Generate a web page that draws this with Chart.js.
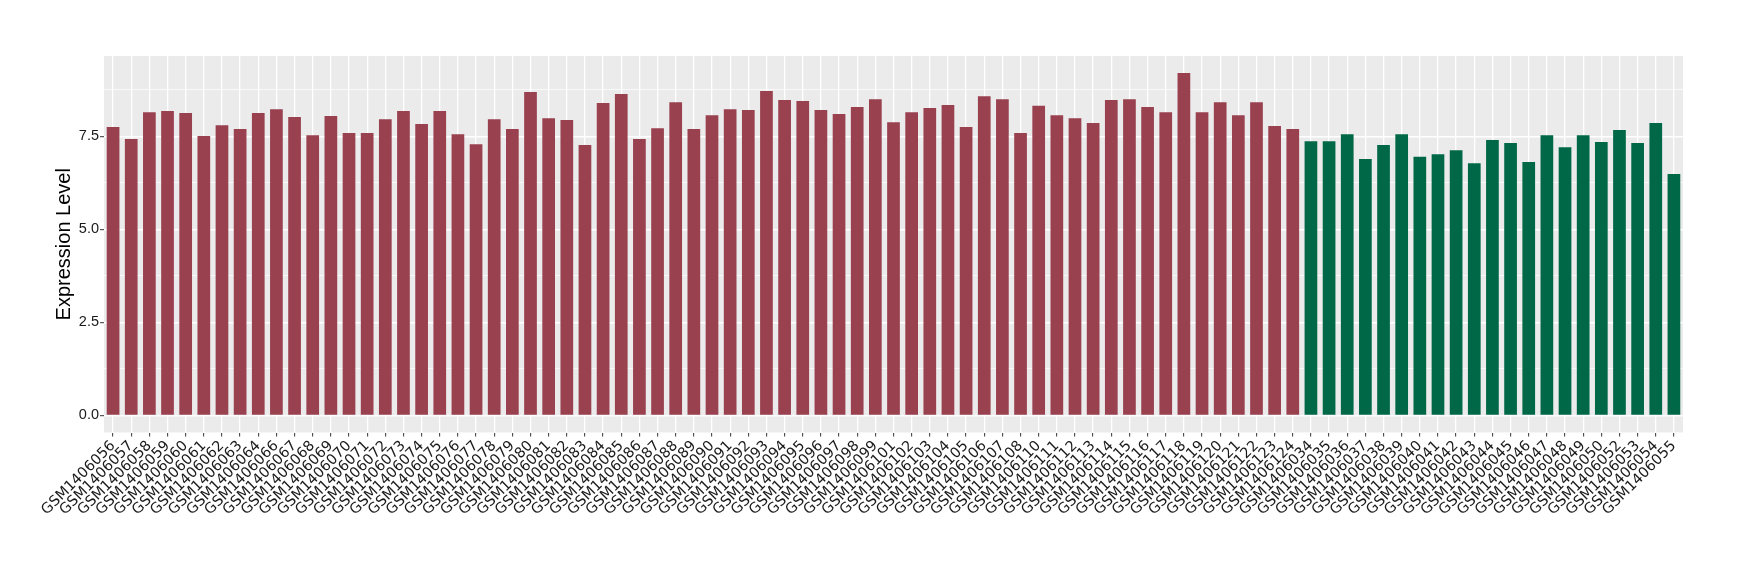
<!DOCTYPE html>
<html>
<head>
<meta charset="utf-8">
<script src="https://cdn.jsdelivr.net/npm/chart.js@4/dist/chart.umd.min.js"></script>
<style>
  body { margin: 0; background: #fff; }
</style>
</head>
<body>
<canvas id="exprChart" width="1740" height="580"></canvas>
<script>
  // group 1 (red) samples and values
  const redSamples = [
    "GSM1406056", "GSM1406057", "GSM1406058", "GSM1406059", "GSM1406060", "GSM1406061",
    "GSM1406062", "GSM1406063", "GSM1406064", "GSM1406066", "GSM1406067", "GSM1406068",
    "GSM1406069", "GSM1406070", "GSM1406071", "GSM1406072", "GSM1406073", "GSM1406074",
    "GSM1406075", "GSM1406076", "GSM1406077", "GSM1406078", "GSM1406079", "GSM1406080",
    "GSM1406081", "GSM1406082", "GSM1406083", "GSM1406084", "GSM1406085", "GSM1406086",
    "GSM1406087", "GSM1406088", "GSM1406089", "GSM1406090", "GSM1406091", "GSM1406092",
    "GSM1406093", "GSM1406094", "GSM1406095", "GSM1406096", "GSM1406097", "GSM1406098",
    "GSM1406099", "GSM1406101", "GSM1406102", "GSM1406103", "GSM1406104", "GSM1406105",
    "GSM1406106", "GSM1406107", "GSM1406108", "GSM1406110", "GSM1406111", "GSM1406112",
    "GSM1406113", "GSM1406114", "GSM1406115", "GSM1406116", "GSM1406117", "GSM1406118",
    "GSM1406119", "GSM1406120", "GSM1406121", "GSM1406122", "GSM1406123", "GSM1406124"
  ];
  const redValues = [
    7.75, 7.43, 8.15, 8.18, 8.13, 7.51,
    7.80, 7.70, 8.13, 8.23, 8.02, 7.53,
    8.05, 7.59, 7.59, 7.96, 8.18, 7.83,
    8.18, 7.56, 7.29, 7.96, 7.70, 8.69,
    7.99, 7.94, 7.27, 8.40, 8.64, 7.43,
    7.72, 8.42, 7.70, 8.07, 8.23, 8.21,
    8.72, 8.48, 8.45, 8.21, 8.10, 8.29,
    8.50, 7.88, 8.15, 8.26, 8.34, 7.75,
    8.58, 8.50, 7.59, 8.32, 8.07, 7.99,
    7.86, 8.48, 8.50, 8.29, 8.15, 9.20,
    8.15, 8.42, 8.07, 8.42, 7.78, 7.70
  ];

  // group 2 (green) samples and values
  const greenSamples = [
    "GSM1406034", "GSM1406035", "GSM1406036", "GSM1406037", "GSM1406038", "GSM1406039",
    "GSM1406040", "GSM1406041", "GSM1406042", "GSM1406043", "GSM1406044", "GSM1406045",
    "GSM1406046", "GSM1406047", "GSM1406048", "GSM1406049", "GSM1406050", "GSM1406052",
    "GSM1406053", "GSM1406054", "GSM1406055"
  ];
  const greenValues = [
    7.37, 7.37, 7.56, 6.89, 7.27, 7.56,
    6.95, 7.02, 7.13, 6.78, 7.40, 7.32,
    6.81, 7.53, 7.21, 7.53, 7.35, 7.67,
    7.32, 7.86, 6.49
  ];

  const yTicks = [0, 1.25, 2.5, 3.75, 5, 6.25, 7.5, 8.75];

  const RED = "#9A4150";
  const GREEN = "#006847";

  const labels = redSamples.concat(greenSamples);
  const values = redValues.concat(greenValues);
  const colors = redSamples.map(() => RED).concat(greenSamples.map(() => GREEN));

  const isMajor = v => Math.abs(v / 2.5 - Math.round(v / 2.5)) < 1e-6;

  const panelBg = {
    id: "panelBg",
    beforeDraw(chart) {
      const { ctx, chartArea: a } = chart;
      ctx.save();
      ctx.fillStyle = "#EBEBEB";
      ctx.fillRect(a.left, a.top, a.right - a.left, a.bottom - a.top);
      ctx.restore();
    }
  };

  new Chart(document.getElementById("exprChart").getContext("2d"), {
    type: "bar",
    data: {
      labels,
      datasets: [{
        data: values,
        backgroundColor: colors,
        borderWidth: 0,
        categoryPercentage: 1,
        barPercentage: 0.7
      }]
    },
    options: {
      responsive: false,
      animation: false,
      layout: { padding: { top: 56, right: 57, bottom: 0, left: 0 } },
      plugins: {
        legend: { display: false },
        tooltip: { enabled: false }
      },
      scales: {
        x: {
          offset: true,
          border: { display: false },
          grid: {
            offset: false,
            color: "#FFFFFF",
            lineWidth: 1.3,
            tickColor: "#333333",
            tickWidth: 1,
            tickLength: 4
          },
          ticks: {
            autoSkip: false,
            minRotation: 45,
            maxRotation: 45,
            padding: 1,
            color: "#1A1A1A",
            font: { family: "DejaVu Sans", size: 14.5 }
          },
          afterFit(scale) { scale.height = 147.5; }
        },
        y: {
          min: -0.46,
          max: 9.66,
          border: { display: false },
          afterBuildTicks(scale) {
            scale.ticks = yTicks.map(v => ({ value: v }));
          },
          grid: {
            color: "#FFFFFF",
            lineWidth: ctx => (ctx.tick && isMajor(ctx.tick.value)) ? 1.4 : 0.7,
            tickColor: ctx => (ctx.tick && isMajor(ctx.tick.value)) ? "#333333" : "rgba(0,0,0,0)",
            tickWidth: 1,
            tickLength: 4
          },
          ticks: {
            padding: 1,
            color: "#1A1A1A",
            font: { family: "Liberation Sans", size: 14.5 },
            callback: v => isMajor(v) ? v.toFixed(1) : ""
          },
          title: {
            display: true,
            text: "Expression Level",
            color: "#000000",
            font: { family: "Liberation Sans", size: 20 },
            padding: { top: 52, bottom: 0 }
          },
          afterFit(scale) { scale.width = 104; }
        }
      }
    },
    plugins: [panelBg]
  });
</script>
</body>
</html>
